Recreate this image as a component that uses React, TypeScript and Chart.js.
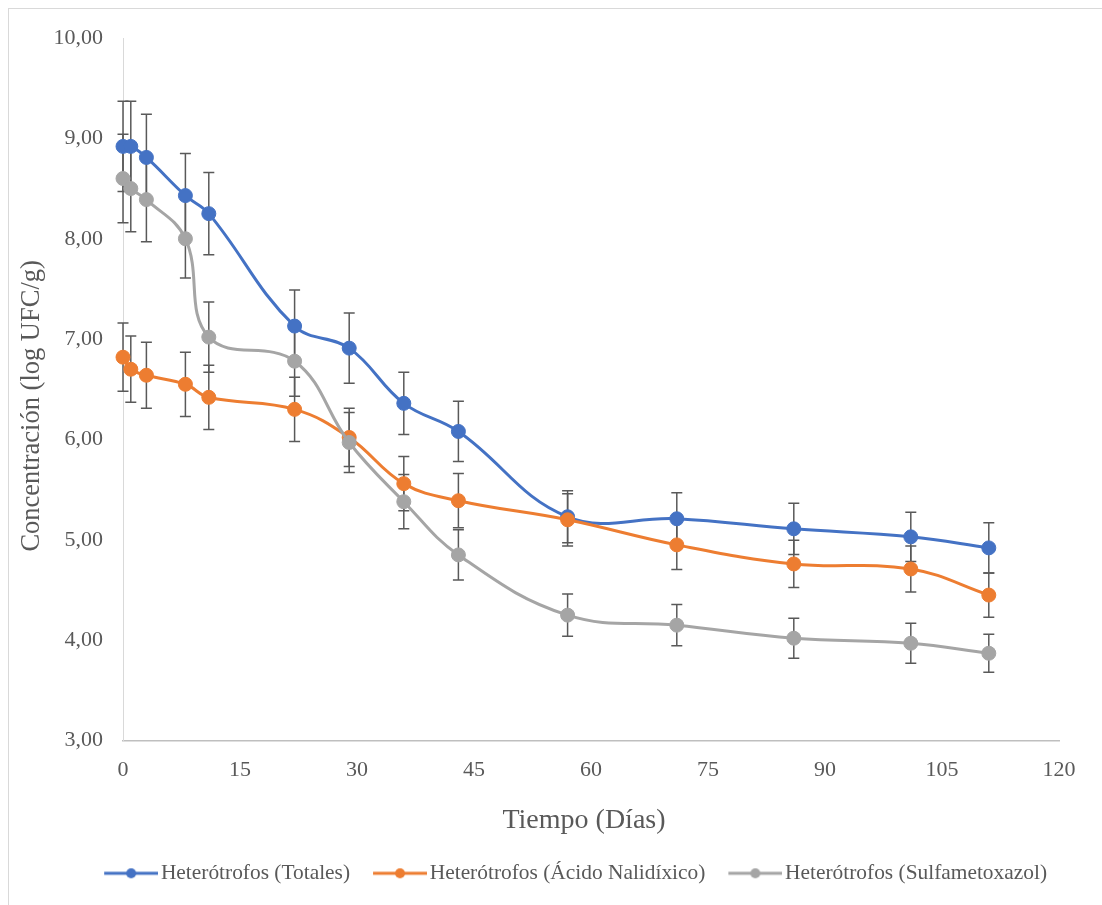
import React, { useEffect, useRef } from "react";
import { Chart, registerables } from "chart.js";

Chart.register(...registerables);

const days = [0, 1, 3, 8, 11, 22, 29, 36, 43, 57, 71, 86, 101, 111];
const totales = [8.92, 8.92, 8.81, 8.43, 8.25, 7.13, 6.91, 6.36, 6.08, 5.23, 5.21, 5.11, 5.03, 4.92];
const acido = [6.82, 6.7, 6.64, 6.55, 6.42, 6.3, 6.02, 5.56, 5.39, 5.2, 4.95, 4.76, 4.71, 4.45];
const sulfa = [8.6, 8.5, 8.39, 8.0, 7.02, 6.78, 5.97, 5.38, 4.85, 4.25, 4.15, 4.02, 3.97, 3.87];
const errTotales = [0.45, 0.45, 0.43, 0.42, 0.41, 0.36, 0.35, 0.31, 0.3, 0.26, 0.26, 0.255, 0.245, 0.25];
const errAcido = [0.34, 0.33, 0.33, 0.32, 0.32, 0.32, 0.29, 0.27, 0.27, 0.26, 0.245, 0.235, 0.23, 0.22];
const errSulfa = [0.44, 0.43, 0.42, 0.39, 0.35, 0.35, 0.3, 0.27, 0.25, 0.21, 0.205, 0.2, 0.2, 0.19];

const seriesNames = [
  "Heterótrofos (Totales)",
  "Heterótrofos (Ácido Nalidíxico)",
  "Heterótrofos (Sulfametoxazol)",
];
const seriesColors = ["#4472C4", "#ED7D31", "#A5A5A5"];
const seriesValues = [totales, acido, sulfa];
const seriesErrors = [errTotales, errAcido, errSulfa];

const xTitle = "Tiempo (Días)";
const yTitle = "Concentración (log UFC/g)";

const FONT = '"Liberation Serif", "Times New Roman", serif';
const TEXT = "#595959";

export default function App() {
  const ref = useRef<HTMLCanvasElement>(null);

  useEffect(() => {
    const canvas = ref.current;
    if (!canvas) return;

    const makeIcon = (color: string) => {
      const c = document.createElement("canvas");
      c.width = 73;
      c.height = 16;
      const g = c.getContext("2d")!;
      g.strokeStyle = color;
      g.lineWidth = 3;
      g.beginPath();
      g.moveTo(19, 8);
      g.lineTo(73, 8);
      g.stroke();
      g.fillStyle = color;
      g.beginPath();
      g.arc(46, 8, 5, 0, Math.PI * 2);
      g.fill();
      return c;
    };
    const icons = seriesColors.map(makeIcon);

    const errorBars = {
      id: "errorBars",
      beforeDatasetsDraw(chart: any) {
        const { ctx } = chart;
        const xs = chart.scales.x;
        const ys = chart.scales.y;
        ctx.save();
        ctx.strokeStyle = "#595959";
        ctx.lineWidth = 1.5;
        chart.data.datasets.forEach((ds: any, i: number) => {
          const errs = seriesErrors[i];
          ds.data.forEach((p: any, j: number) => {
            const px = xs.getPixelForValue(p.x);
            const top = ys.getPixelForValue(p.y + errs[j]);
            const bot = ys.getPixelForValue(p.y - errs[j]);
            ctx.beginPath();
            ctx.moveTo(px, top);
            ctx.lineTo(px, bot);
            ctx.moveTo(px - 5.5, top);
            ctx.lineTo(px + 5.5, top);
            ctx.moveTo(px - 5.5, bot);
            ctx.lineTo(px + 5.5, bot);
            ctx.stroke();
          });
        });
        ctx.restore();
      },
    };

    const datasets = seriesValues.map((vals, i) => ({
      label: seriesNames[i],
      data: days.map((d, j) => ({ x: d, y: vals[j] })),
      borderColor: seriesColors[i],
      backgroundColor: seriesColors[i],
      pointBackgroundColor: seriesColors[i],
      pointBorderColor: seriesColors[i],
      pointBorderWidth: 1,
      pointRadius: 7,
      pointHoverRadius: 7,
      borderWidth: 3,
      tension: 0.4,
      fill: false,
      clip: false,
      order: 2 - i,
    }));

    const chart = new Chart(canvas, {
      type: "line",
      data: { datasets },
      plugins: [errorBars],
      options: {
        animation: false,
        responsive: false,
        devicePixelRatio: 1,
        layout: { padding: { top: 29, right: 43, bottom: 0, left: 0 } },
        scales: {
          x: {
            type: "linear",
            min: 0,
            max: 120,
            ticks: {
              stepSize: 15,
              padding: 16,
              color: TEXT,
              font: { family: FONT, size: 22 },
            },
            grid: { display: false, drawTicks: false },
            border: { display: true, color: "#bfbfbf", width: 1.5 },
            title: {
              display: true,
              text: xTitle + "  ",
              color: TEXT,
              font: { family: FONT, size: 28 },
              padding: { top: 0, bottom: 13.5 },
            },
            afterFit: (s: any) => {
              s.height = 110;
              s.paddingLeft = 0;
              s.paddingRight = 0;
            },
          },
          y: {
            type: "linear",
            min: 3,
            max: 10,
            ticks: {
              stepSize: 1,
              padding: 20,
              color: TEXT,
              font: { family: FONT, size: 22 },
              callback: (v: any) => Number(v).toFixed(2).replace(".", ","),
            },
            grid: { display: false, drawTicks: false },
            border: { display: true, color: "#d9d9d9", width: 1 },
            title: {
              display: true,
              text: yTitle + "     ",
              color: TEXT,
              font: { family: FONT, size: 26.5 },
              padding: { top: 7, bottom: 0 },
            },
            afterFit: (s: any) => {
              s.width = 114;
              s.paddingTop = 0;
              s.paddingBottom = 0;
            },
          },
        },
        plugins: {
          tooltip: { enabled: false },
          legend: {
            position: "bottom",
            align: "end",
            labels: {
              usePointStyle: true,
              pointStyleWidth: 57,
              padding: 12,
              color: TEXT,
              font: { family: FONT, size: 21.4 },
              sort: (a: any, b: any) => a.datasetIndex - b.datasetIndex,
              generateLabels: (ch: any) =>
                (Chart.defaults.plugins.legend.labels as any)
                  .generateLabels(ch)
                  .map((l: any) => ({ ...l, pointStyle: icons[l.datasetIndex] })),
            },
          },
        },
      } as any,
    });

    return () => chart.destroy();
  }, []);

  return (
    <div
      style={{
        position: "fixed",
        left: 8,
        top: 8,
        width: 1094,
        height: 897,
        overflow: "hidden",
        borderLeft: "1px solid #d9d9d9",
        borderTop: "1px solid #d9d9d9",
        background: "#fff",
      }}
    >
      <canvas ref={ref} width={1093} height={885} style={{ display: "block" }} />
    </div>
  );
}
